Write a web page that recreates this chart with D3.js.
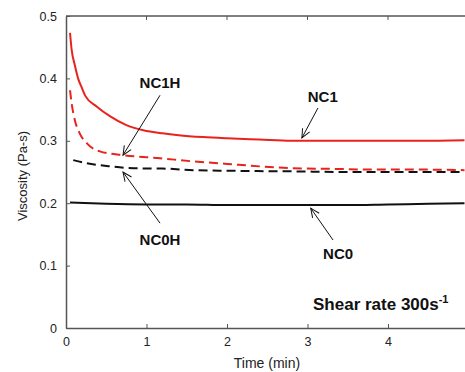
<!DOCTYPE html>
<html><head><meta charset="utf-8">
<script src="https://cdn.jsdelivr.net/npm/d3@7"></script>
<style>
html,body{margin:0;padding:0;background:#fff;}
svg{display:block;font-family:"Liberation Sans",Arial,sans-serif;}
</style></head>
<body>
<svg id="c" width="465" height="372"></svg>
<script>
// ---- data ----
const xTicks = [0, 1, 2, 3, 4, 5];
const xTickLabels = ["0", "1", "2", "3", "4", ""];
const yTicks = [0, 0.1, 0.2, 0.3, 0.4, 0.5];
const yTickLabels = ["0", "0.1", "0.2", "0.3", "0.4", "0.5"];

const nc1T  = [0.05,0.07,0.11,0.15,0.2,0.24,0.38,0.55,0.75,0.96,1.2,1.4,1.7,2.0,2.4,2.8,3.2,3.6,4.0,4.4,4.95];
const nc1V  = [0.473,0.446,0.421,0.400,0.384,0.372,0.355,0.339,0.325,0.317,0.312,0.309,0.306,0.304,0.302,0.300,0.300,0.300,0.300,0.300,0.301];

const nc1hT = [0.05,0.07,0.11,0.17,0.26,0.42,0.71,1.17,1.58,2.0,2.41,2.82,3.3,3.8,4.3,4.95];
const nc1hV = [0.381,0.360,0.333,0.312,0.296,0.283,0.277,0.272,0.267,0.263,0.259,0.256,0.255,0.254,0.254,0.253];

const nc0hT = [0.09,0.26,0.55,0.84,1.2,1.58,2.0,2.82,3.5,4.2,4.95];
const nc0hV = [0.269,0.264,0.259,0.256,0.2555,0.253,0.252,0.251,0.250,0.250,0.250];

const nc0T  = [0.05,0.5,1.0,1.5,2.0,2.5,3.0,3.5,4.0,4.5,4.95];
const nc0V  = [0.201,0.199,0.198,0.198,0.197,0.197,0.197,0.197,0.198,0.199,0.200];

// annotation labels and arrows (data coordinates)
const labelText = ["NC1H", "NC1", "NC0H", "NC0"];
const labelPos  = [[1.168,0.393],[3.19,0.370],[1.168,0.141],[3.38,0.1186]];
const arrowFrom = [[1.168,0.373],[3.13,0.3526],[1.168,0.168],[3.317,0.141]];
const arrowTo   = [[0.708,0.277],[2.93,0.3045],[0.708,0.250],[3.04,0.192]];

// ---- layout ----
const svg = d3.select("#c");
const x = d3.scaleLinear().domain([0,5]).range([66, 468.5]);
const y = d3.scaleLinear().domain([0,0.5]).range([328, 16]);
const axisCol = "#555";
const red = "#e8231c";

svg.append("line").attr("x1",66).attr("x2",465).attr("y1",y(0.5)).attr("y2",y(0.5))
  .attr("stroke",axisCol).attr("stroke-width",1.5);

const gx = svg.append("g").attr("transform",`translate(0,${y(0)})`)
  .call(d3.axisBottom(x).tickValues(xTicks).tickFormat((d,i)=>xTickLabels[i]).tickSizeInner(-4).tickSizeOuter(0).tickPadding(9));
const gy = svg.append("g").attr("transform",`translate(${x(0)},0)`)
  .call(d3.axisLeft(y).tickValues(yTicks).tickFormat((d,i)=>yTickLabels[i]).tickSizeInner(-4).tickSizeOuter(0).tickPadding(9));
[gx,gy].forEach(g=>{
  g.select(".domain").attr("stroke",axisCol).attr("stroke-width",1.5);
  g.selectAll(".tick line").attr("stroke",axisCol).attr("stroke-width",1);
  g.selectAll(".tick text").attr("fill","#222").style("font-size","12.5px").style("font-family","'Liberation Sans',Arial,sans-serif");
});
svg.append("g").selectAll("line").data(xTicks.filter(d=>d>0))
  .join("line").attr("x1",d=>x(d)).attr("x2",d=>x(d)).attr("y1",y(0.5)).attr("y2",y(0.5)+4)
  .attr("stroke",axisCol).attr("stroke-width",1);

svg.append("text").attr("x",267).attr("y",368).attr("text-anchor","middle")
  .attr("fill","#222").style("font-size","14px").text("Time (min)");
svg.append("text").attr("transform","translate(22,176) rotate(-90)").attr("text-anchor","middle")
  .attr("dy","0.35em").attr("fill","#222").style("font-size","13px").text("Viscosity (Pa-s)");

const line = d3.line().x(d=>x(d[0])).y(d=>y(d[1])).curve(d3.curveMonotoneX);
const zip = (a,b)=>a.map((t,i)=>[t,b[i]]);
const series = [
  {t:nc0T, v:nc0V, col:"#111", dash:null},
  {t:nc0hT, v:nc0hV, col:"#111", dash:"9,5"},
  {t:nc1hT, v:nc1hV, col:red, dash:"9,5"},
  {t:nc1T, v:nc1V, col:red, dash:null}
];
svg.append("g").selectAll("path").data(series).join("path")
  .attr("d",s=>line(zip(s.t,s.v)))
  .attr("fill","none").attr("stroke",s=>s.col).attr("stroke-width",2)
  .attr("stroke-dasharray",s=>s.dash);

svg.append("defs").append("marker").attr("id","ah").attr("viewBox","-10 -6 12 12")
  .attr("refX",0).attr("refY",0).attr("markerWidth",12).attr("markerHeight",12)
  .attr("markerUnits","userSpaceOnUse").attr("orient","auto")
  .append("path").attr("d","M-9,-4 L0,0 L-9,4").attr("fill","none").attr("stroke","#111").attr("stroke-width",1);
svg.append("g").selectAll("line").data(arrowFrom.map((f,i)=>[f,arrowTo[i]])).join("line")
  .attr("x1",d=>x(d[0][0])).attr("y1",d=>y(d[0][1]))
  .attr("x2",d=>x(d[1][0])).attr("y2",d=>y(d[1][1]))
  .attr("stroke","#111").attr("stroke-width",1).attr("marker-end","url(#ah)");

svg.append("g").selectAll("text").data(labelText).join("text")
  .attr("x",(d,i)=>x(labelPos[i][0])).attr("y",(d,i)=>y(labelPos[i][1]))
  .attr("text-anchor","middle").attr("dy","0.35em")
  .attr("fill","#111").style("font-size","15px").style("font-weight","bold").text(d=>d);

const note = svg.append("text").attr("x",313).attr("y",310).attr("fill","#111")
  .style("font-size","17px").style("font-weight","bold");
note.append("tspan").text("Shear rate 300s");
note.append("tspan").attr("dy",-7).style("font-size","11px").text("-1");
</script>
</body></html>
